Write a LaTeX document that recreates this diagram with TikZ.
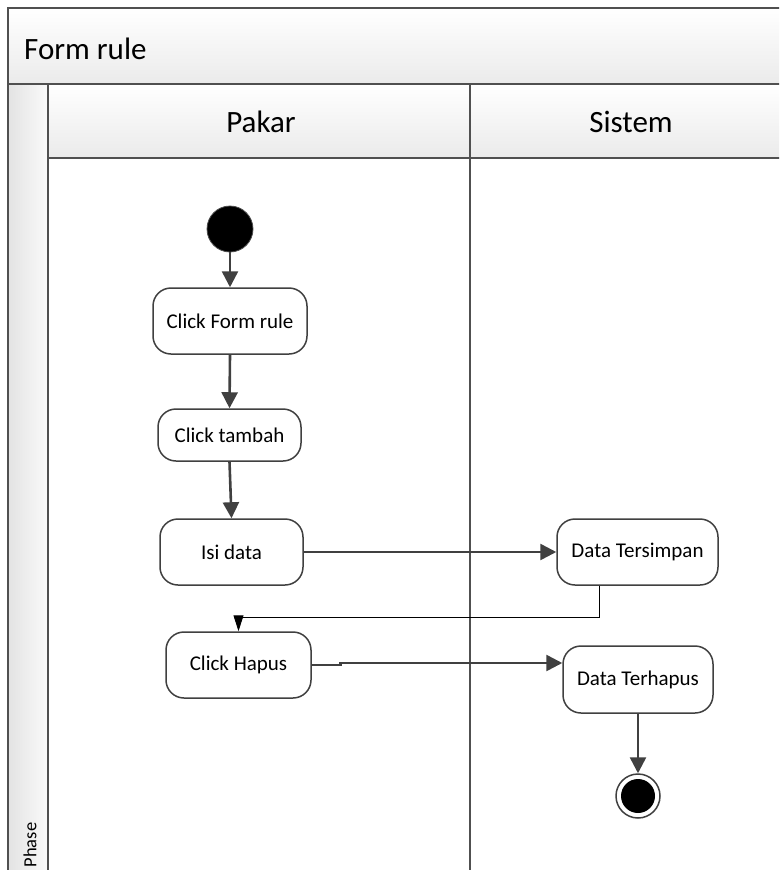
\documentclass[tikz,border=0pt]{standalone}
\usepackage{fontspec}
\setmainfont{Carlito}
\usetikzlibrary{arrows.meta,calc}
\definecolor{frameline}{HTML}{505050}
\definecolor{flowline}{HTML}{404040}
\tikzset{
  lane/.style={draw=frameline, line width=2pt},
  activity/.style={draw=flowline, line width=1.5pt, fill=white, rounded corners=18pt,
    inner sep=0pt, font=\fontsize{21}{25}\selectfont},
  flow/.style={draw=flowline, line width=2.6pt,
    -{Triangle[length=16pt, width=16pt]}},
  thinflow/.style={draw=black, line width=1pt,
    -{Triangle[length=16pt, width=10pt]}},
  heading/.style={font=\fontsize{31}{36}\selectfont, inner sep=0pt},
}
\begin{document}
\begin{tikzpicture}[x=1pt, y=-1pt]
  \useasboundingbox (0,0) rectangle (779,870);
  \clip (0,0) rectangle (779,870);
  \fill[white] (0,0) rectangle (779,870);

  % swimlane frame
  \shade[top color=white, bottom color=black!8] (8,8) rectangle (800,84);
  \shade[left color=black!11, right color=black!2] (8,84) rectangle (48,880);
  \shade[top color=white, bottom color=black!8] (48,84) rectangle (800,158);
  \draw[lane] (800,8) -- (8,8) -- (8,880);
  \draw[lane] (8,84) -- (800,84);
  \draw[lane] (48,84) -- (48,880);
  \draw[lane] (48,158) -- (800,158);
  \draw[lane] (470,84) -- (470,880);

  \node[heading, anchor=west] (title) at (24,49) {Form rule};
  \node[heading] (pakar) at (261,122) {Pakar};
  \node[heading] (sistem) at (631,122) {Sistem};
  \node[font=\fontsize{18.5}{22}\selectfont, rotate=90, inner sep=0pt] (phase) at (30,845) {Phase};

  % activities
  \node[circle, fill=black, draw=black!70, line width=0.8pt, minimum size=46pt, inner sep=0pt] (start) at (230,229) {};
  \node[activity, minimum width=154pt, minimum height=66pt] (cfr) at (230,321) {Click Form rule};
  \node[activity, minimum width=143pt, minimum height=52pt] (ct) at (229.5,435) {Click tambah};
  \node[activity, minimum width=143pt, minimum height=66pt] (isi) at (231.5,552) {Isi data};
  \node[activity, minimum width=161pt, minimum height=66pt] (dts) at (637.5,552) {Data Tersimpan};
  \node[activity, minimum width=145pt, minimum height=66pt] (ch) at (238.5,665) {Click Hapus};
  \node[activity, minimum width=150pt, minimum height=67pt] (dth) at (638,679.5) {Data Terhapus};
  \node[circle, fill=white, draw=flowline, line width=1.5pt, minimum size=44pt, inner sep=0pt] (end) at (638,796) {};
  \node[circle, fill=black, minimum size=34pt, inner sep=0pt] (endcore) at (end.center) {};

  % control flow
  \draw[flow] (start.south) -- (cfr.north);
  \draw[flow] (cfr.south) -- (ct.north);
  \draw[flow] (ct.south) -- (isi.north);
  \draw[flow] (isi.east) -- (dts.west);
  \draw[thinflow] ([xshift=-38.5pt]dts.south) |- ([yshift=14pt]ch.north) -- (ch.north);
  \draw[flow] (ch.east) -- ++(29,0) -- ++(0,-2) -- ([yshift=16.5pt]dth.west);
  \draw[flow] (dth.south) -- (end.north);
\end{tikzpicture}
\end{document}
